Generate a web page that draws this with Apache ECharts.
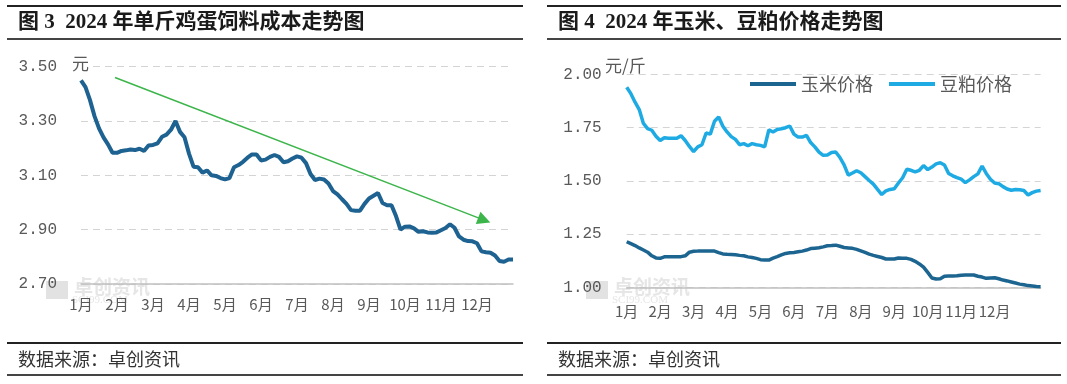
<!DOCTYPE html>
<html><head><meta charset="utf-8">
<script src="https://cdn.jsdelivr.net/npm/echarts/dist/echarts.min.js"></script>
<style>html,body{margin:0;padding:0;background:#fff}#c{width:1067px;height:384px}</style>
</head><body><div id="c"></div>
<script>
// ---------- data ----------
const monthLabels = ['1月','2月','3月','4月','5月','6月','7月','8月','9月','10月','11月','12月'];
const POINTS_PER_MONTH = 8; // readings per month (x = index / 8 months)

// 图3: 单斤鸡蛋饲料成本 (元)
const eggFeedCost = [
 3.45,3.425,3.377,3.318,3.273,3.24,3.214,3.183,
 3.183,3.19,3.192,3.195,3.193,3.198,3.19,3.21,
 3.212,3.218,3.242,3.25,3.268,3.30,3.26,3.24,
 3.18,3.132,3.13,3.11,3.118,3.10,3.098,3.09,
 3.085,3.09,3.13,3.138,3.15,3.165,3.177,3.177,
 3.155,3.158,3.168,3.175,3.168,3.148,3.152,3.162,
 3.17,3.165,3.145,3.105,3.083,3.088,3.085,3.07,
 3.042,3.03,3.012,2.995,2.972,2.97,2.97,2.995,
 3.015,3.025,3.035,2.998,2.99,2.99,2.95,2.90,
 2.911,2.912,2.905,2.892,2.894,2.89,2.889,2.89,
 2.898,2.906,2.92,2.907,2.875,2.863,2.858,2.857,
 2.85,2.82,2.817,2.815,2.805,2.785,2.782,2.79,
 2.79
];
const trendArrowStart = [0.944, 3.46];
const trendArrowEnd = [11.2, 2.935];

// 图4: 玉米、豆粕价格 (元/斤)
const cornPrice = [
 1.214,1.205,1.196,1.185,1.175,1.165,1.148,1.138,
 1.136,1.143,1.144,1.144,1.144,1.144,1.148,1.165,
 1.169,1.17,1.17,1.17,1.17,1.17,1.163,1.157,
 1.155,1.154,1.153,1.15,1.148,1.143,1.14,1.136,
 1.13,1.128,1.128,1.137,1.144,1.152,1.159,1.162,
 1.164,1.167,1.17,1.175,1.182,1.184,1.186,1.19,
 1.195,1.196,1.198,1.193,1.187,1.185,1.183,1.178,
 1.171,1.164,1.156,1.15,1.145,1.14,1.133,1.133,
 1.133,1.138,1.137,1.136,1.131,1.122,1.11,1.095,
 1.07,1.044,1.039,1.04,1.052,1.053,1.053,1.054,
 1.057,1.058,1.058,1.058,1.052,1.048,1.042,1.044,
 1.045,1.04,1.034,1.03,1.025,1.02,1.015,1.012,
 1.008,1.006,1.004,1.003
];
const soyMealPrice = [
 1.94,1.91,1.87,1.835,1.77,1.746,1.738,1.71,
 1.69,1.703,1.70,1.70,1.70,1.712,1.69,1.662,
 1.638,1.66,1.67,1.725,1.72,1.78,1.80,1.757,
 1.73,1.708,1.695,1.67,1.675,1.665,1.675,1.67,
 1.667,1.66,1.74,1.73,1.742,1.745,1.75,1.758,
 1.72,1.706,1.706,1.714,1.68,1.66,1.635,1.62,
 1.622,1.634,1.636,1.61,1.575,1.527,1.537,1.548,
 1.538,1.52,1.502,1.485,1.46,1.436,1.453,1.46,
 1.463,1.49,1.515,1.555,1.55,1.542,1.55,1.572,
 1.553,1.565,1.58,1.585,1.575,1.535,1.524,1.515,
 1.508,1.492,1.505,1.52,1.533,1.57,1.535,1.508,
 1.49,1.487,1.473,1.462,1.456,1.46,1.458,1.455,
 1.434,1.445,1.452,1.455
];
const leftYTicks = {min: 2.7, max: 3.5, step: 0.2};
const rightYTicks = {min: 1.0, max: 2.0, step: 0.25};

// ---------- chart ----------
const toXY = arr => arr.map((v, i) => [i / POINTS_PER_MONTH, v]);
const monthFmt = v => (Math.abs(v - Math.round(v)) < 1e-6 && v < 12) ? monthLabels[Math.round(v)] : '';
const gray = '#595959';
const numFont = '"Liberation Mono", "DejaVu Sans Mono", monospace';
const cjkFont = '"Noto Sans CJK SC", sans-serif';
const titleFont = '"Liberation Serif", "Noto Sans CJK SC", serif';
const split = {show: true, lineStyle: {color: '#d4d4d4', type: [7, 5], width: 1}};

const chart = echarts.init(document.getElementById('c'), null, {renderer: 'canvas'});

function frame(x0, x1, title) {
  return [
    {type: 'rect', shape: {x: x0, y: 5, width: x1 - x0, height: 2}, style: {fill: '#222'}, silent: true},
    {type: 'rect', shape: {x: x0, y: 38, width: x1 - x0, height: 2}, style: {fill: '#444'}, silent: true},
    {type: 'text', x: x0 + 11, y: 23, style: {text: title, font: 'bold 21px ' + titleFont, fill: '#1a1a1a', verticalAlign: 'middle'}},
    {type: 'rect', shape: {x: x0, y: 342, width: x1 - x0, height: 2}, style: {fill: '#222'}, silent: true},
    {type: 'rect', shape: {x: x0, y: 374, width: x1 - x0, height: 2}, style: {fill: '#444'}, silent: true},
    {type: 'text', x: x0 + 11, y: 359, style: {text: '数据来源：卓创资讯', font: '18px ' + cjkFont, fill: '#333', verticalAlign: 'middle'}}
  ];
}
function watermark(x, y) {
  return [
    {type: 'rect', shape: {x: x, y: y, width: 22, height: 18}, style: {fill: '#e2e2e2'}, silent: true, z: 0},
    {type: 'text', x: x + 28, y: y - 4, style: {text: '卓创资讯', font: 'bold 19px ' + cjkFont, fill: '#e6e6e6'}, z: 0},
    {type: 'text', x: x + 26, y: y + 14, style: {text: 'SCI99.COM', font: '11px "Liberation Serif", serif', fill: '#e6e6e6'}, z: 0}
  ];
}

chart.setOption({
  animation: false,
  backgroundColor: '#fff',
  graphic: [
    ...frame(7, 523, '图 3  2024 年单斤鸡蛋饲料成本走势图'),
    ...frame(547, 1061, '图 4  2024 年玉米、豆粕价格走势图'),
    ...watermark(46, 281),
    ...watermark(586, 281),
    {type: 'text', x: 72, y: 64, z: 10, style: {text: '元', font: '17px ' + cjkFont, fill: gray, verticalAlign: 'middle', backgroundColor: '#fff'}},
    {type: 'text', x: 605, y: 66, z: 10, style: {text: '元/斤', font: '17px ' + cjkFont, fill: gray, verticalAlign: 'middle'}}
  ],
  legend: {
    data: ['玉米价格', '豆粕价格'],
    left: 745, top: 70,
    icon: 'rect', itemWidth: 46, itemHeight: 4, itemGap: 16,
    textStyle: {fontFamily: cjkFont, fontSize: 18, color: gray}
  },
  grid: [
    {left: 81, right: 1067 - 513, top: 66.7, bottom: 384 - 284},
    {left: 626.7, right: 1067 - 1040.6, top: 74.5, bottom: 384 - 287.3}
  ],
  xAxis: [
    {gridIndex: 0, type: 'value', min: 0, max: 12, interval: 1,
     axisLine: {show: true, lineStyle: {color: '#c0c0c0', width: 1.5}}, axisTick: {show: false}, splitLine: {show: false},
     axisLabel: {formatter: monthFmt, margin: 13, fontFamily: cjkFont, fontSize: 15, color: gray, showMaxLabel: false}},
    {gridIndex: 1, type: 'value', min: 0, max: 12.375, interval: 1,
     axisLine: {show: true, lineStyle: {color: '#c0c0c0', width: 1.5}}, axisTick: {show: false}, splitLine: {show: false},
     axisLabel: {formatter: monthFmt, margin: 16, fontFamily: cjkFont, fontSize: 15, color: gray, showMaxLabel: false}}
  ],
  yAxis: [
    {gridIndex: 0, type: 'value', min: leftYTicks.min, max: leftYTicks.max, interval: leftYTicks.step,
     axisLine: {show: false}, axisTick: {show: false}, splitLine: split,
     axisLabel: {formatter: v => v.toFixed(2), margin: 24, fontFamily: numFont, fontSize: 16, color: gray}},
    {gridIndex: 1, type: 'value', min: rightYTicks.min, max: rightYTicks.max, interval: rightYTicks.step,
     axisLine: {show: false}, axisTick: {show: false}, splitLine: split,
     axisLabel: {formatter: v => v.toFixed(2), margin: 25, fontFamily: numFont, fontSize: 16, color: gray}}
  ],
  series: [
    {name: '单斤鸡蛋饲料成本', type: 'line', xAxisIndex: 0, yAxisIndex: 0, data: toXY(eggFeedCost),
     symbol: 'none', lineStyle: {color: '#1d6290', width: 4}, itemStyle: {color: '#1d6290'}, z: 3,
     markLine: {silent: true, symbol: ['none', 'triangle'], symbolSize: 13,
       lineStyle: {color: '#3cb54a', width: 1.5, type: 'solid'}, itemStyle: {color: '#2eb047'}, label: {show: false},
       data: [[{coord: trendArrowStart}, {coord: trendArrowEnd}]]}},
    {name: '玉米价格', type: 'line', xAxisIndex: 1, yAxisIndex: 1, data: toXY(cornPrice),
     symbol: 'none', lineStyle: {color: '#1c6590', width: 3.5}, itemStyle: {color: '#1c6590'}, z: 3},
    {name: '豆粕价格', type: 'line', xAxisIndex: 1, yAxisIndex: 1, data: toXY(soyMealPrice),
     symbol: 'none', lineStyle: {color: '#1eaae2', width: 3.5}, itemStyle: {color: '#1eaae2'}, z: 3}
  ]
});
</script>
</body></html>
